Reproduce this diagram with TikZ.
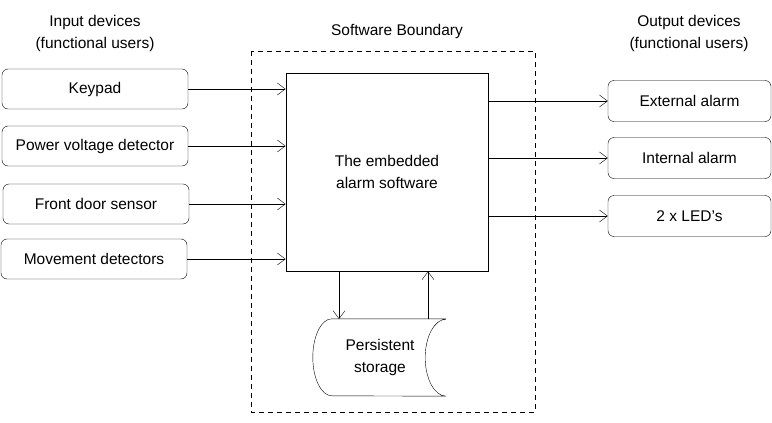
\documentclass[tikz,border=0pt]{standalone}
\usepackage{fontspec}
\setmainfont{Liberation Sans}
\usepackage{xcolor}
\definecolor{cLine}{HTML}{000000}
\usepackage{tikz}
\usetikzlibrary{positioning,arrows.meta,calc}
\tikzset{
  node-device/.style={draw=cLine,rounded corners=6pt,minimum height=40pt,
    minimum width=186pt,align=center,inner sep=0pt},
  node-output/.style={node-device,minimum width=163pt,minimum height=41pt},
  node-core/.style={draw=cLine,thick,minimum width=202pt,minimum height=198pt,
    align=center,inner sep=0pt},
  node-heading/.style={align=center},
  boundary/.style={draw=cLine,dashed,dash pattern=on 5pt off 4pt},
  arrow/.style={-{Straight Barb[length=8pt,width=12pt]},draw=cLine},
}

\begin{document}
\begin{tikzpicture}[x=1pt,y=-1pt,font=\fontsize{15.5}{22}\selectfont]
  \useasboundingbox (0,0) rectangle (772,423);
  % software boundary
  \draw[boundary] (251,51) rectangle (535,412);
  \node[node-heading] (boundary-label) at (397,31) {Software Boundary};
  \node[node-heading] (input-label)  at (95,33)  {Input devices\\(functional users)};
  \node[node-heading] (output-label) at (689,33) {Output devices\\(functional users)};

  % core software
  \node[node-core] (core) at (387,172) {The embedded\\alarm software};

  % input devices
  \node[node-device] (keypad)   at (95,89)  {Keypad};
  \node[node-device] (voltage)  at (95,146) {Power voltage detector};
  \node[node-device] (door)     at (96,204) {Front door sensor};
  \node[node-device] (movement) at (94,259) {Movement detectors};
  \foreach \src in {keypad,voltage,door,movement}
    \draw[arrow] (\src.east) -- (core.west |- \src.east);

  % output devices
  \node[node-output] (ext-alarm) at (689.5,101) {External alarm};
  \node[node-output] (int-alarm) at (689.5,158) {Internal alarm};
  \node[node-output] (leds)      at (689.5,216) {2 x LED’s};
  \foreach \dst in {ext-alarm,int-alarm,leds}
    \draw[arrow] (core.east |- \dst.west) -- (\dst.west);

  % persistent storage
  \node[minimum width=114pt,minimum height=77pt,inner sep=0pt,align=center]
    (storage) at (389,357.5) {};
  \node[align=center] (storage-text) at (380,357.5) {Persistent\\storage};
  \draw[cLine] (storage.north east) -- (storage.north west)
    arc[start angle=90,end angle=270,x radius=19pt,y radius=38.5pt]
    -- (storage.south east)
    arc[start angle=270,end angle=90,x radius=21pt,y radius=38.5pt];
  \coordinate (store-in)  at (339,319);
  \coordinate (store-out) at (428,319);
  \draw[arrow] (core.south -| store-in) -- (store-in);
  \draw[arrow] (store-out) -- (core.south -| store-out);
\end{tikzpicture}
\end{document}
